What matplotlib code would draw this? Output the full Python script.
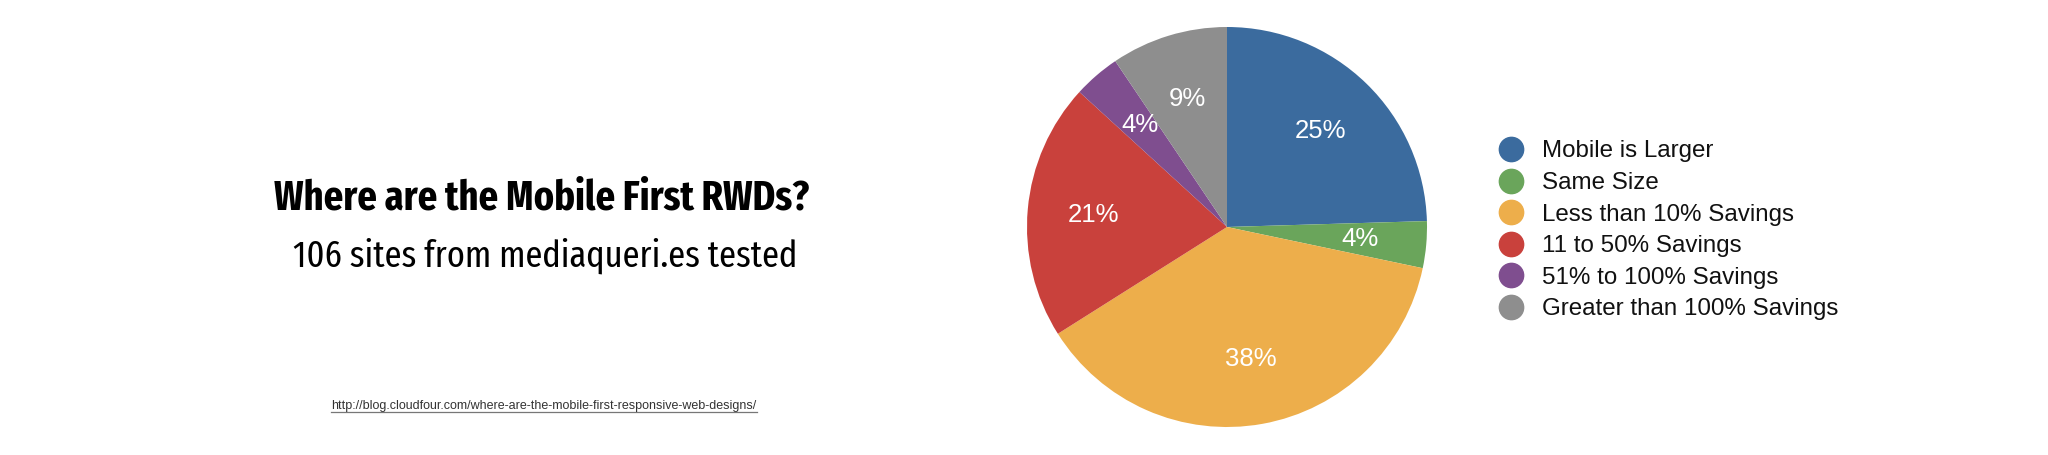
import matplotlib.pyplot as plt
from matplotlib.lines import Line2D

# site counts out of 106 (angles, labels are rounded %)
categories = ["Mobile is Larger", "Same Size", "Less than 10% Savings",
              "11 to 50% Savings", "51% to 100% Savings", "Greater than 100% Savings"]
counts = [26, 4, 40, 22, 4, 10]
colors = ["#3B6B9E", "#6AA55B", "#EDAE4B", "#C9413C", "#7F4E8F", "#8E8E8E"]

title = "Where are the Mobile First RWDs?"
subtitle = "106 sites from mediaqueri.es tested"
url = "http://blog.cloudfour.com/where-are-the-mobile-first-responsive-web-designs/"

W, H = 2048, 455
fig = plt.figure(figsize=(W / 100, H / 100), dpi=100)
fig.patch.set_facecolor("white")
helv = ["Liberation Sans", "DejaVu Sans"]
cond = ["Fira Sans Extra Condensed", "Fira Sans Condensed", "DejaVu Sans"]

# pie: centre (1227, 227) px, radius 200 px
cx, cy, r = 1227, 227, 200
ax = fig.add_axes([(cx - r) / W, (H - cy - r) / H, 2 * r / W, 2 * r / H])
wedges, texts, autotexts = ax.pie(counts, colors=colors, startangle=90, counterclock=False,
                                  autopct="%.0f%%", pctdistance=0.67,
                                  wedgeprops=dict(linewidth=0),
                                  textprops=dict(color="white", fontsize=18.5, family=helv))
ax.set_xlim(-1, 1)
ax.set_ylim(-1, 1)
ax.set_aspect("equal")
ax.axis("off")

# legend drawn by hand as circles + text
leg_x, leg_y0, leg_dy = 1511, 149, 31.6
for i, (lab, col) in enumerate(zip(categories, colors)):
    y = leg_y0 + i * leg_dy
    fig.add_artist(Line2D([leg_x / W], [1 - y / H], marker="o", markersize=17.5,
                          color=col, linestyle="none"))
    fig.text(1542 / W, 1 - y / H, lab, fontsize=17.4, color="#111111",
             family=helv, va="center_baseline", ha="left")


def fit_text(x, y, s, width_px, size, **kw):
    # shrink/grow the font so the line spans the width seen in the reference
    t = fig.text(x / W, 1 - y / H, s, fontsize=size, ha="center", va="baseline", **kw)
    fig.canvas.draw()
    w = t.get_window_extent().width
    t.set_fontsize(size * width_px / w)
    return t


fit_text(542, 210, title, 535, 30, fontweight="bold", family=cond, color="black")
fit_text(545, 267, subtitle, 505, 30, family=cond, color="black")
url_t = fit_text(544, 409, url, 425, 9, family=helv, color="#333333")
fig.canvas.draw()
bb = url_t.get_window_extent()
fig.add_artist(Line2D([bb.x0 / W, bb.x1 / W], [(H - 412) / H, (H - 412) / H],
                      color="#777777", linewidth=0.9))

fig.savefig("out.png", dpi=100, facecolor="white")
